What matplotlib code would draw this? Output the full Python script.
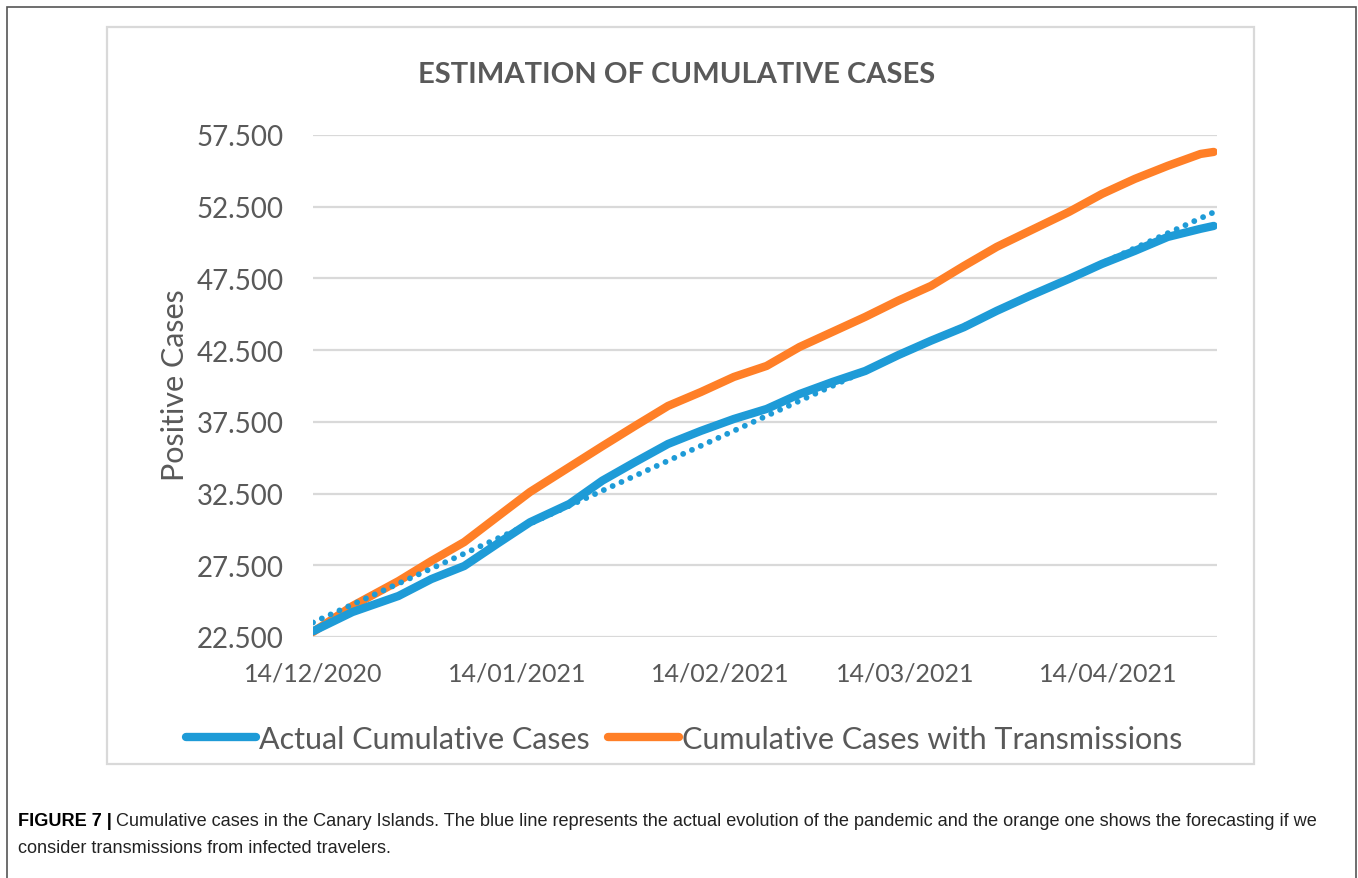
import numpy as np
import pandas as pd
import matplotlib
matplotlib.use('Agg')
import matplotlib.pyplot as plt
import matplotlib.dates as mdates
from matplotlib.patches import Rectangle

# values (days after 14/12/2020)
days = [0, 6, 13, 18, 23, 28, 33, 39, 44, 49, 54, 59, 64, 69, 74, 79, 84,
        89, 94, 99, 104, 109, 115, 120, 125, 130, 135, 137]
actual = [22900, 24240, 25360, 26540, 27450, 28990, 30500, 31780, 33400,
          34700, 35960, 36870, 37700, 38400, 39440, 40280, 41050, 42150,
          43160, 44100, 45240, 46280, 47470, 48510, 49420, 50390, 50960, 51160]
transm = [22850, 24660, 26400, 27800, 29120, 30870, 32610, 34350, 35800,
          37220, 38610, 39580, 40630, 41400, 42720, 43770, 44820, 45950,
          46980, 48370, 49700, 50810, 52140, 53390, 54440, 55350, 56180, 56320]

start = pd.Timestamp('2020-12-14')
end = pd.Timestamp('2021-04-30')
tick_dates = ['2020-12-14', '2021-01-14', '2021-02-14', '2021-03-14', '2021-04-14']
yticks = [22500, 27500, 32500, 37500, 42500, 47500, 52500, 57500]

dates = start + pd.to_timedelta(days, unit='D')
blue = '#1E9BD7'
orange = '#FF7F27'
grey = '#595959'

W, H = 1358, 879
fig = plt.figure(figsize=(W / 100, H / 100), dpi=100)
plt.rcParams['font.family'] = ['Lato', 'DejaVu Sans']

# frames
fig.patches.append(Rectangle((7 / W, -0.01), 1349 / W, 1 - 8 / H + 0.01,
                             transform=fig.transFigure, fill=False,
                             ec='#555555', lw=1.2))
fig.patches.append(Rectangle((107 / W, 1 - 765 / H), 1147 / W, 737 / H,
                             transform=fig.transFigure, fill=False,
                             ec='#d9d9d9', lw=1.6))

ax = fig.add_axes([313 / W, 1 - 638 / H, 904 / W, 502 / H])

# linear trend of the actual series (Excel trendline)
xnum = mdates.date2num(dates)
k, b = np.polyfit(xnum, actual, 1)
xt = mdates.date2num(pd.date_range(start, end, freq='D'))
ax.plot(mdates.num2date(xt), k * xt + b, color=blue, lw=4.2,
        linestyle=(0, (0.01, 1.65)), dash_capstyle='round', zorder=3)

ax.plot(dates, transm, color=orange, lw=6, solid_capstyle='round',
        solid_joinstyle='round', label='Cumulative Cases with Transmissions', zorder=2)
ax.plot(dates, actual, color=blue, lw=6, solid_capstyle='round',
        solid_joinstyle='round', label='Actual Cumulative Cases', zorder=4)

ax.set_xlim(start, end + pd.Timedelta(days=0.5))
ax.set_ylim(22500, 57500)
ax.set_yticks(yticks)
ax.set_yticklabels([f'{v:,}'.replace(',', '.') for v in yticks])
ax.set_xticks(pd.to_datetime(tick_dates))
ax.set_xticklabels([pd.Timestamp(d).strftime('%d/%m/%Y') for d in tick_dates])
ax.grid(axis='y', color='#d9d9d9', lw=1.6)
ax.set_axisbelow(True)
for s in ax.spines.values():
    s.set_visible(False)
ax.tick_params(axis='both', length=0, colors=grey)
ax.tick_params(axis='y', labelsize=20, pad=21)
ax.tick_params(axis='x', labelsize=18, pad=18)

fig.text(677 / W, 1 - 75 / H, 'ESTIMATION OF CUMULATIVE CASES', ha='center',
         va='center', fontsize=21, fontweight='bold', color=grey)
fig.text(175 / W, 1 - 385 / H, 'Positive Cases', rotation=90, ha='center',
         va='center', fontsize=22, color=grey)

h, l = ax.get_legend_handles_labels()
leg = fig.legend(h[::-1], l[::-1], loc='center', bbox_to_anchor=(684 / W, 1 - 740 / H),
                 ncol=2, frameon=False, fontsize=22, handlelength=2.3,
                 handletextpad=0.1, columnspacing=0.6, labelcolor=grey)
for line in leg.get_lines():
    line.set_linewidth(6)
    line.set_solid_capstyle('round')

cap_font = ['Liberation Sans']
renderer = fig.canvas.get_renderer()
t1 = fig.text(18 / W, 1 - 822 / H, 'FIGURE 7 |', fontsize=13.1, fontweight='bold',
              family=cap_font, va='center', color='black')
bb = t1.get_window_extent(renderer)
fig.text((bb.x1 + 4) / W, 1 - 822 / H,
         'Cumulative cases in the Canary Islands. The blue line represents the actual '
         'evolution of the pandemic and the orange one shows the forecasting if we',
         fontsize=13.1, family=cap_font, va='center', color='#222222')
fig.text(18 / W, 1 - 849 / H, 'consider transmissions from infected travelers.',
         fontsize=13.1, family=cap_font, va='center', color='#222222')

fig.savefig('out.png', dpi=100)
